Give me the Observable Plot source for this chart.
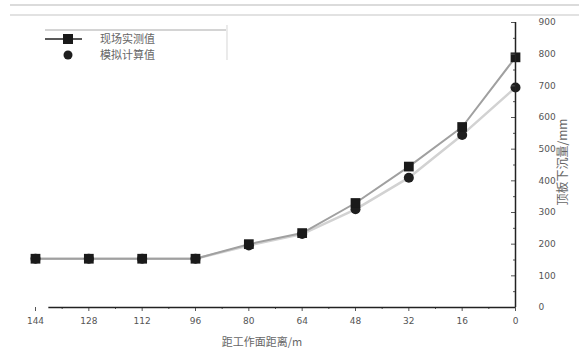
<!DOCTYPE html>
<html><head><meta charset="utf-8">
<script src="https://cdn.jsdelivr.net/npm/d3@7"></script>
<script src="https://cdn.jsdelivr.net/npm/@observablehq/plot@0.6"></script>
<style>
body{margin:0;background:#fff;font-family:"Noto Sans CJK SC","DejaVu Sans",sans-serif;}
#wrap{position:relative;width:579px;height:354px;overflow:hidden;}
</style></head>
<body><div id="wrap"></div>
<script>
// data
const distance = [144, 128, 112, 96, 80, 64, 48, 32, 16, 0];
const measured = [154, 154, 154, 154, 200, 235, 330, 445, 570, 790];
const simulated = [154, 154, 154, 154, 196, 232, 310, 410, 545, 695];
const xTicks = [144, 128, 112, 96, 80, 64, 48, 32, 16, 0];
const yTicks = [0, 100, 200, 300, 400, 500, 600, 700, 800, 900];
const seriesNames = ["现场实测值", "模拟计算值"];
const xTitle = "距工作面距离/m";
const yTitle = "顶板下沉量/mm";

const mData = distance.map((d, i) => ({x: d, y: measured[i]}));
const sData = distance.map((d, i) => ({x: d, y: simulated[i]}));
const minorY = d3.range(0, 901, 50).filter(v => v % 100 !== 0);
const minorX = d3.range(8, 144, 16);

const W = 579, H = 354;
const plot = Plot.plot({
  width: W, height: H,
  marginLeft: 35, marginRight: 64, marginTop: 22, marginBottom: 47,
  style: {fontFamily: "'DejaVu Sans', sans-serif", fontSize: "9px", color: "#555", background: "transparent"},
  x: {domain: [144, 0], type: "linear"},
  y: {domain: [0, 900]},
  marks: [
    Plot.line(sData, {x: "x", y: "y", stroke: "#d2d2d2", strokeWidth: 2.5}),
    Plot.line(mData, {x: "x", y: "y", stroke: "#a0a0a0", strokeWidth: 2}),
    Plot.dot(sData, {x: "x", y: "y", r: 5, fill: "#1e1e1e", stroke: "none"}),
    Plot.dot(mData, {x: "x", y: "y", symbol: "square", r: 5.5, fill: "#1a1a1a", stroke: "none"}),
    Plot.axisX({ticks: xTicks, tickSize: 4, tickPadding: 6, label: null, tickFormat: d => d}),
    Plot.axisX({ticks: minorX, tickSize: 2, tickFormat: () => "", label: null}),
    Plot.axisY({anchor: "right", ticks: yTicks, tickSize: -5, tickPadding: 28, label: null, tickFormat: d => d}),
    Plot.axisY({anchor: "right", ticks: minorY, tickSize: -3, tickFormat: () => "", label: null}),
    Plot.ruleY([0], {x1: 140, x2: 0, stroke: "#222", strokeWidth: 1.5}),
    Plot.ruleX([0], {y1: 0, y2: 900, stroke: "#222", strokeWidth: 1.5})
  ]
});
document.getElementById("wrap").appendChild(plot);

const svg = d3.select(plot);
// page border lines at top
svg.append("line").attr("x1", 10).attr("x2", W).attr("y1", 5).attr("y2", 5).attr("stroke", "#cfcfcf").attr("stroke-width", 1.5);
svg.append("line").attr("x1", 10).attr("x2", W).attr("y1", 15).attr("y2", 15).attr("stroke", "#d8d8d8").attr("stroke-width", 1.5);

// legend
const lg = svg.append("g").attr("text-anchor", "start");
lg.append("line").attr("x1", 45).attr("x2", 226).attr("y1", 30).attr("y2", 30).attr("stroke", "#aaa").attr("stroke-width", 1.2);
lg.append("line").attr("x1", 227).attr("x2", 227).attr("y1", 25).attr("y2", 60).attr("stroke", "#ddd").attr("stroke-width", 1.2);
lg.append("line").attr("x1", 45).attr("x2", 82).attr("y1", 39).attr("y2", 39).attr("stroke", "#222").attr("stroke-width", 1.5);
lg.append("rect").attr("x", 63).attr("y", 34).attr("width", 10).attr("height", 10).attr("fill", "#1a1a1a");
lg.append("circle").attr("cx", 68).attr("cy", 55).attr("r", 4.5).attr("fill", "#1e1e1e");
lg.append("text").attr("x", 100).attr("y", 43).attr("font-size", 11).attr("fill", "#666").attr("font-family", "Noto Sans CJK SC").text(seriesNames[0]);
lg.append("text").attr("x", 100).attr("y", 59).attr("font-size", 11).attr("fill", "#666").attr("font-family", "Noto Sans CJK SC").text(seriesNames[1]);

// axis titles
svg.append("text").attr("x", 262).attr("y", 346).attr("text-anchor", "middle").attr("font-size", 11).attr("fill", "#666").attr("font-family", "Noto Sans CJK SC").text(xTitle);
svg.append("text").attr("transform", "translate(567,162) rotate(-90)").attr("text-anchor", "middle").attr("font-size", 12).attr("fill", "#666").attr("font-family", "Noto Sans CJK SC").text(yTitle);
</script>
</body></html>
